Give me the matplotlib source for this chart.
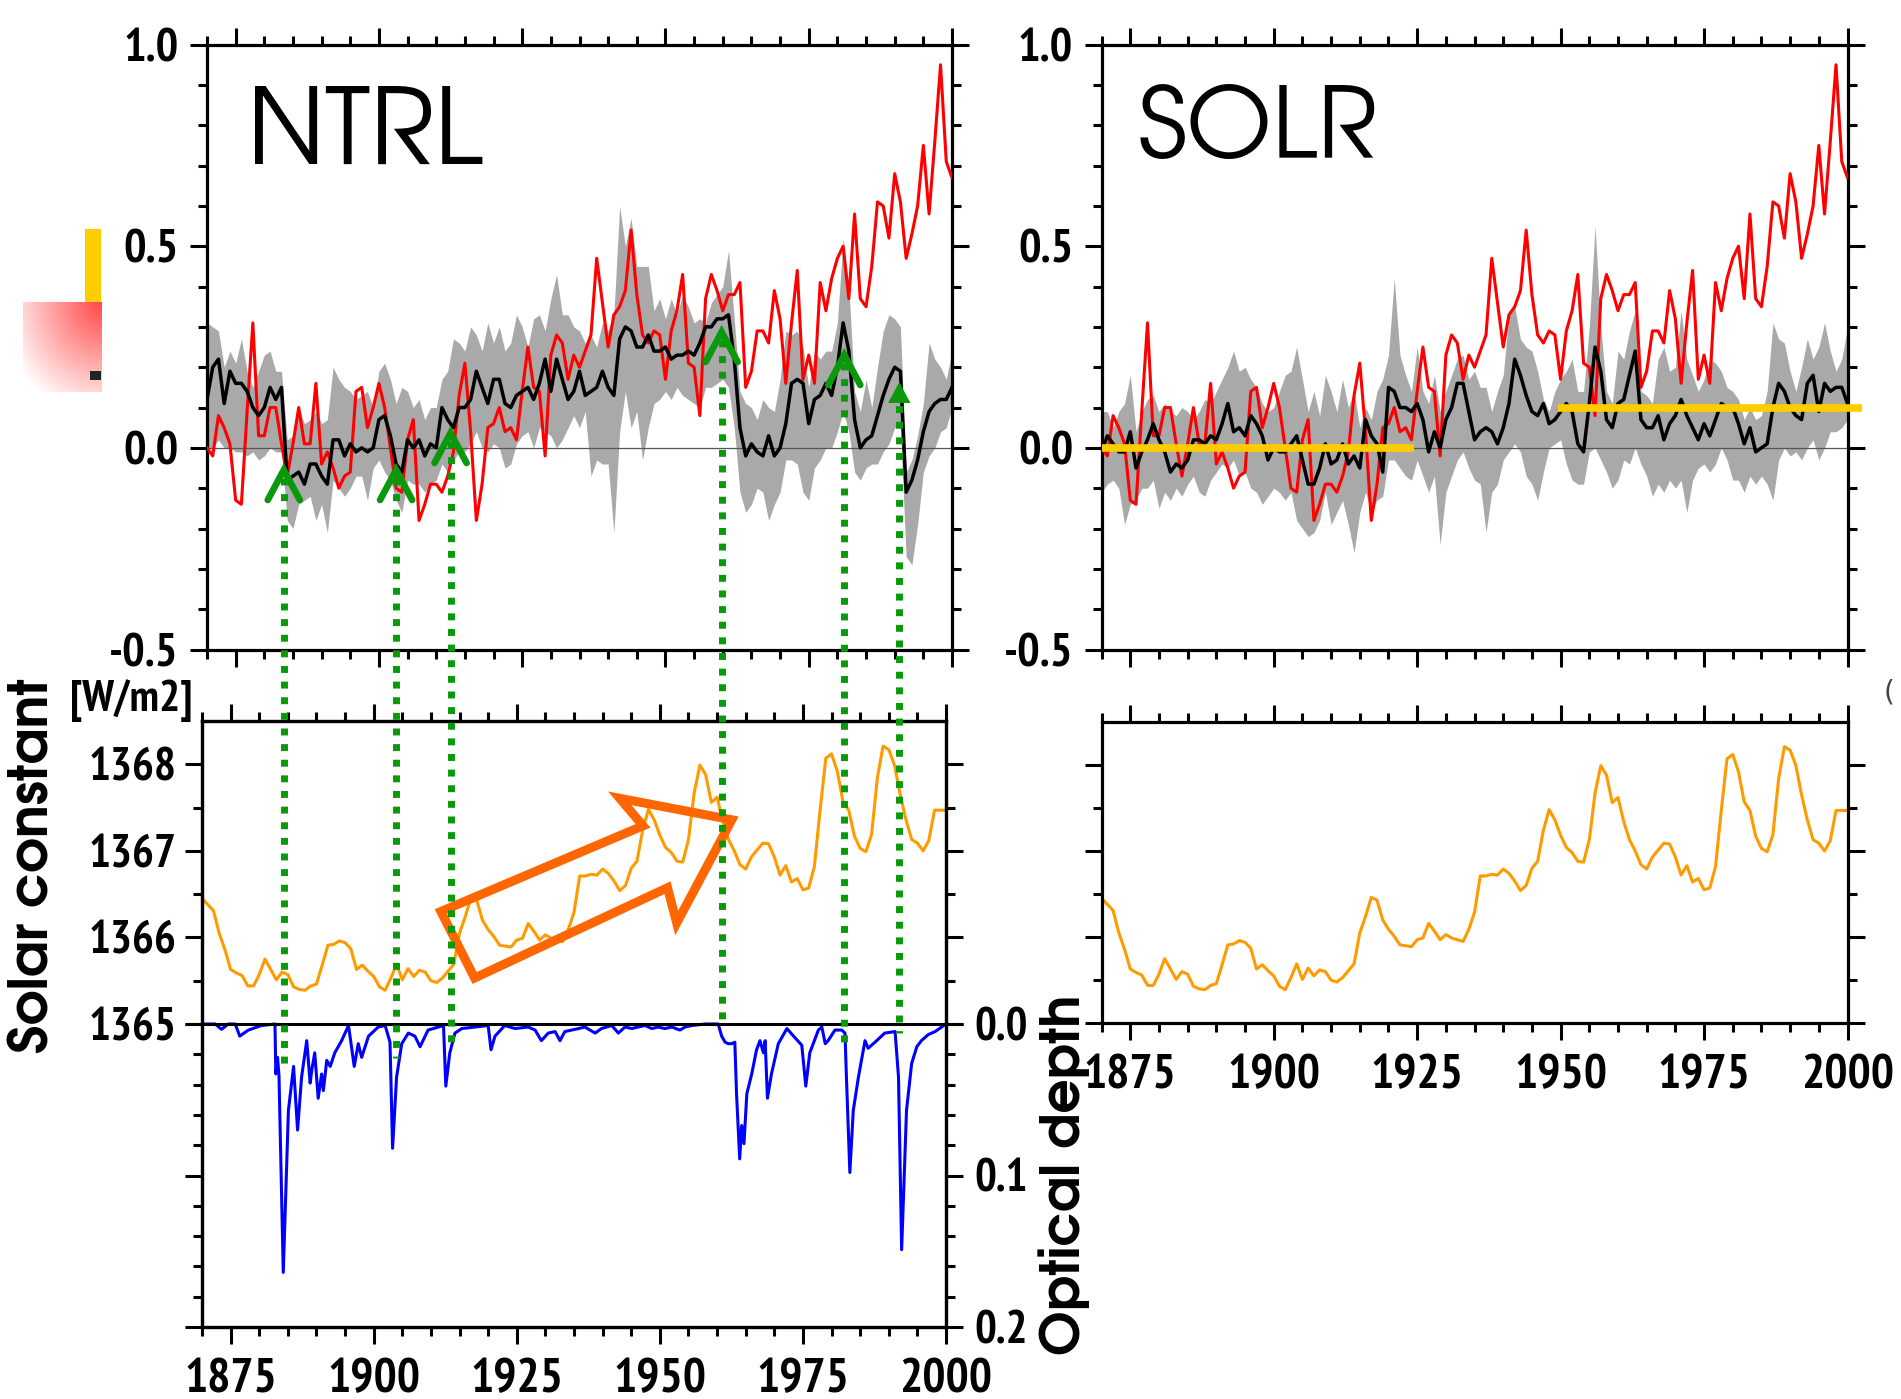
import numpy as np
import matplotlib
matplotlib.use("Agg")
import matplotlib.pyplot as plt
import matplotlib.transforms as mtransforms
from matplotlib import font_manager as fm
from matplotlib.ticker import MultipleLocator, FixedLocator, FormatStrFormatter
from matplotlib.patches import Polygon, Rectangle
from matplotlib.lines import Line2D

available = {f.name for f in fm.fontManager.ttflist}


def pick(*names):
    for n in names:
        if n in available:
            return n
    return "DejaVu Sans"


NARROW = pick("PT Sans Narrow", "Open Sans Condensed", "IBM Plex Sans Condensed",
              "Liberation Sans Narrow")
GOTHIC = pick("TeX Gyre Adventor", "URW Gothic", "Questrial", "Didact Gothic",
              "Poppins")
GOTHIC_BOLD = pick("TeX Gyre Adventor", "URW Gothic", "Poppins")

plt.rcParams["font.family"] = [NARROW, "DejaVu Sans"]
plt.rcParams["font.weight"] = "bold"

# ---------------- data ----------------
years = list(range(1870, 2001))

obs_red = [
    0.00, -0.02, 0.08, 0.05, 0.01, -0.13, -0.14, 0.09, 0.31, 0.03,
    0.03, 0.10, 0.10, 0.01, -0.07, 0.01, 0.10, 0.01, 0.01, 0.16,
    -0.04, -0.01, -0.05, -0.10, -0.07, -0.06, 0.14, 0.15, 0.05, 0.10,
    0.16, 0.10, 0.00, -0.10, -0.11, 0.02, 0.07, -0.18, -0.14, -0.09,
    -0.09, -0.11, -0.07, -0.01, 0.13, 0.21, 0.04, -0.18, -0.09, 0.05,
    0.06, 0.10, 0.04, 0.05, 0.02, 0.14, 0.25, 0.15, 0.14, -0.02,
    0.23, 0.28, 0.26, 0.17, 0.23, 0.20, 0.24, 0.28, 0.47, 0.36,
    0.25, 0.33, 0.35, 0.39, 0.54, 0.38, 0.28, 0.26, 0.29, 0.28,
    0.17, 0.29, 0.34, 0.43, 0.21, 0.20, 0.08, 0.37, 0.43, 0.39,
    0.34, 0.38, 0.38, 0.41, 0.15, 0.19, 0.29, 0.29, 0.26, 0.39,
    0.32, 0.16, 0.31, 0.44, 0.17, 0.23, 0.16, 0.41, 0.34, 0.42,
    0.47, 0.50, 0.37, 0.58, 0.37, 0.35, 0.45, 0.61, 0.60, 0.52,
    0.68, 0.61, 0.47, 0.53, 0.60, 0.75, 0.58, 0.76, 0.95, 0.71,
    0.67]

ntrl_mean = [
    0.12, 0.20, 0.22, 0.11, 0.19, 0.16, 0.16, 0.14, 0.10, 0.08,
    0.10, 0.15, 0.12, 0.15, -0.08, -0.07, -0.06, -0.09, -0.04, -0.04,
    -0.07, -0.09, 0.02, 0.02, -0.02, 0.01, -0.01, 0.00, -0.01, 0.00,
    0.07, 0.08, 0.03, -0.04, -0.06, 0.02, 0.00, 0.02, -0.02, 0.01,
    0.00, 0.10, 0.07, 0.05, 0.10, 0.10, 0.12, 0.19, 0.15, 0.11,
    0.17, 0.17, 0.11, 0.10, 0.13, 0.14, 0.15, 0.12, 0.16, 0.22,
    0.14, 0.22, 0.17, 0.12, 0.14, 0.19, 0.13, 0.14, 0.15, 0.19,
    0.15, 0.13, 0.27, 0.30, 0.29, 0.25, 0.25, 0.28, 0.24, 0.24,
    0.25, 0.22, 0.23, 0.23, 0.24, 0.23, 0.26, 0.30, 0.30, 0.32,
    0.32, 0.33, 0.22, 0.05, -0.02, 0.01, -0.01, -0.02, 0.03, -0.02,
    0.00, 0.06, 0.16, 0.17, 0.16, 0.06, 0.12, 0.13, 0.16, 0.13,
    0.20, 0.31, 0.24, 0.07, 0.00, 0.02, 0.03, 0.08, 0.13, 0.17,
    0.20, 0.19, -0.11, -0.08, -0.03, 0.04, 0.09, 0.11, 0.12, 0.12,
    0.15]

ntrl_hi = [
    0.31, 0.30, 0.29, 0.20, 0.24, 0.21, 0.27, 0.19, 0.15, 0.19,
    0.23, 0.24, 0.19, 0.19, 0.02, 0.03, 0.10, 0.06, 0.07, 0.09,
    0.06, 0.07, 0.20, 0.17, 0.15, 0.14, 0.12, 0.13, 0.14, 0.10,
    0.19, 0.21, 0.17, 0.11, 0.15, 0.14, 0.10, 0.12, 0.07, 0.10,
    0.10, 0.17, 0.19, 0.27, 0.26, 0.24, 0.30, 0.28, 0.24, 0.31,
    0.26, 0.30, 0.24, 0.26, 0.33, 0.30, 0.25, 0.32, 0.33, 0.29,
    0.37, 0.43, 0.33, 0.33, 0.30, 0.29, 0.26, 0.28, 0.25, 0.31,
    0.29, 0.33, 0.60, 0.50, 0.57, 0.45, 0.45, 0.45, 0.34, 0.37,
    0.32, 0.37, 0.33, 0.38, 0.35, 0.31, 0.32, 0.31, 0.36, 0.38,
    0.40, 0.49, 0.32, 0.14, 0.11, 0.10, 0.07, 0.12, 0.10, 0.09,
    0.17, 0.29, 0.28, 0.29, 0.25, 0.15, 0.24, 0.22, 0.24, 0.24,
    0.31, 0.52, 0.40, 0.14, 0.09, 0.17, 0.10, 0.20, 0.29, 0.33,
    0.32, 0.30, -0.06, -0.03, 0.03, 0.11, 0.26, 0.22, 0.20, 0.17,
    0.24]

ntrl_lo = [
    0.00, 0.00, 0.02, 0.00, 0.00, -0.01, -0.01, -0.02, -0.01, -0.03,
    -0.02, 0.00, -0.01, -0.01, -0.18, -0.20, -0.14, -0.13, -0.12, -0.18,
    -0.14, -0.21, -0.08, -0.10, -0.12, -0.10, -0.07, -0.07, -0.13, -0.05,
    -0.03, -0.06, -0.08, -0.13, -0.16, -0.08, -0.09, -0.09, -0.11, -0.09,
    -0.08, -0.04, -0.06, -0.03, -0.01, -0.01, 0.01, 0.04, 0.00, -0.01,
    0.01, 0.00, -0.05, -0.04, 0.01, 0.03, 0.04, 0.00, 0.05, 0.04,
    0.03, 0.00, 0.02, 0.05, 0.08, 0.05, 0.09, -0.07, -0.03, -0.04,
    -0.04, -0.21, 0.04, 0.14, 0.05, 0.09, -0.03, 0.05, 0.11, 0.12,
    0.14, 0.12, 0.15, 0.13, 0.12, 0.11, 0.10, 0.15, 0.15, 0.16,
    0.17, 0.15, 0.05, -0.11, -0.16, -0.14, -0.10, -0.11, -0.18, -0.14,
    -0.11, -0.03, -0.03, -0.04, -0.11, -0.13, -0.05, -0.03, 0.00, 0.00,
    0.04, 0.09, 0.04, -0.06, -0.08, -0.05, -0.04, -0.04, -0.01, 0.01,
    0.05, 0.05, -0.27, -0.29, -0.19, -0.06, -0.02, 0.00, 0.04, 0.05,
    0.10]

solr_mean = [
    -0.01, 0.03, 0.01, -0.01, -0.01, 0.04, -0.05, -0.01, 0.02, 0.06,
    0.02, -0.01, -0.06, -0.04, -0.05, -0.03, 0.02, 0.02, 0.01, 0.03,
    0.02, 0.06, 0.11, 0.04, 0.05, 0.03, 0.08, 0.06, 0.03, -0.03,
    0.00, -0.01, -0.01, 0.01, 0.03, -0.03, -0.09, -0.09, -0.05, 0.01,
    -0.04, -0.03, 0.01, -0.04, -0.02, -0.05, 0.07, 0.03, 0.01, -0.06,
    0.15, 0.14, 0.10, 0.10, 0.09, 0.11, 0.07, -0.01, 0.04, 0.00,
    0.07, 0.10, 0.16, 0.16, 0.09, 0.02, 0.04, 0.05, 0.04, 0.01,
    0.05, 0.11, 0.22, 0.18, 0.13, 0.09, 0.08, 0.11, 0.06, 0.07,
    0.09, 0.11, 0.09, 0.01, -0.01, 0.11, 0.25, 0.19, 0.07, 0.05,
    0.11, 0.12, 0.18, 0.24, 0.07, 0.05, 0.05, 0.08, 0.02, 0.06,
    0.08, 0.12, 0.08, 0.05, 0.02, 0.06, 0.03, 0.07, 0.11, 0.10,
    0.10, 0.06, 0.01, 0.05, -0.01, 0.00, 0.01, 0.10, 0.16, 0.14,
    0.10, 0.08, 0.07, 0.16, 0.18, 0.09, 0.16, 0.14, 0.15, 0.15,
    0.11]

solr_hi = [
    0.09, 0.09, 0.05, 0.09, 0.11, 0.18, 0.04, 0.09, 0.12, 0.13,
    0.09, 0.11, 0.09, 0.08, 0.10, 0.09, 0.07, 0.09, 0.12, 0.11,
    0.14, 0.17, 0.20, 0.24, 0.19, 0.20, 0.17, 0.15, 0.11, 0.09,
    0.10, 0.14, 0.18, 0.19, 0.25, 0.17, 0.09, 0.14, 0.08, 0.18,
    0.14, 0.09, 0.17, 0.10, 0.14, 0.05, 0.10, 0.07, 0.14, 0.17,
    0.23, 0.42, 0.23, 0.18, 0.14, 0.25, 0.14, 0.11, 0.18, 0.09,
    0.14, 0.18, 0.22, 0.23, 0.17, 0.19, 0.15, 0.15, 0.09, 0.14,
    0.18, 0.33, 0.35, 0.27, 0.25, 0.24, 0.19, 0.12, 0.09, 0.14,
    0.17, 0.19, 0.22, 0.14, 0.14, 0.30, 0.55, 0.30, 0.14, 0.11,
    0.24, 0.22, 0.29, 0.34, 0.14, 0.13, 0.11, 0.22, 0.25, 0.19,
    0.20, 0.34, 0.22, 0.18, 0.14, 0.17, 0.22, 0.21, 0.19, 0.15,
    0.14, 0.12, 0.07, 0.10, 0.07, 0.08, 0.14, 0.31, 0.27, 0.26,
    0.19, 0.14, 0.20, 0.27, 0.22, 0.25, 0.31, 0.24, 0.19, 0.22,
    0.30]

solr_lo = [
    -0.11, -0.09, -0.08, -0.10, -0.19, -0.14, -0.13, -0.10, -0.10, -0.08,
    -0.15, -0.11, -0.13, -0.10, -0.12, -0.09, -0.07, -0.11, -0.12, -0.08,
    -0.06, -0.04, -0.05, -0.03, -0.07, -0.06, -0.10, -0.11, -0.14, -0.12,
    -0.10, -0.11, -0.13, -0.11, -0.18, -0.20, -0.22, -0.21, -0.18, -0.11,
    -0.19, -0.16, -0.13, -0.19, -0.26, -0.16, -0.11, -0.16, -0.13, -0.12,
    -0.03, -0.03, -0.05, -0.07, -0.08, -0.03, -0.07, -0.11, -0.07, -0.24,
    -0.11, -0.07, -0.03, -0.01, -0.05, -0.08, -0.09, -0.21, -0.11, -0.09,
    -0.03, -0.01, 0.01, -0.01, -0.07, -0.09, -0.13, -0.06, 0.00, 0.01,
    0.02, -0.04, -0.08, -0.09, -0.09, -0.01, 0.00, -0.03, -0.06, -0.10,
    -0.08, -0.03, -0.04, 0.00, -0.04, -0.07, -0.12, -0.09, -0.11, -0.08,
    -0.10, -0.08, -0.16, -0.08, -0.05, -0.04, -0.06, -0.04, 0.00, -0.03,
    -0.08, -0.08, -0.11, -0.07, -0.09, -0.07, -0.09, -0.13, -0.03, 0.00,
    -0.02, -0.01, -0.03, 0.00, 0.02, -0.03, 0.00, 0.04, 0.04, 0.05,
    0.07]

solar_const = [
    1366.45, 1366.38, 1366.31, 1366.05, 1365.86, 1365.63, 1365.59, 1365.56, 1365.44, 1365.44,
    1365.57, 1365.75, 1365.63, 1365.51, 1365.60, 1365.57, 1365.43, 1365.40, 1365.39, 1365.44,
    1365.46, 1365.68, 1365.91, 1365.92, 1365.96, 1365.94, 1365.87, 1365.63, 1365.68, 1365.61,
    1365.55, 1365.43, 1365.39, 1365.53, 1365.69, 1365.51, 1365.64, 1365.55, 1365.62, 1365.60,
    1365.50, 1365.48, 1365.53, 1365.61, 1365.69, 1366.05, 1366.24, 1366.46, 1366.43, 1366.20,
    1366.09, 1366.01, 1365.91, 1365.90, 1365.89, 1365.97, 1365.99, 1366.16, 1366.07, 1365.97,
    1366.03, 1365.99, 1365.97, 1365.95, 1366.09, 1366.29, 1366.71, 1366.71, 1366.73, 1366.72,
    1366.79, 1366.74, 1366.65, 1366.54, 1366.60, 1366.80, 1366.88, 1367.24, 1367.48, 1367.36,
    1367.18, 1367.04, 1366.98, 1366.88, 1366.87, 1367.13, 1367.67, 1367.99, 1367.88, 1367.56,
    1367.62, 1367.34, 1367.13, 1367.00, 1366.84, 1366.79, 1366.93, 1367.01, 1367.09, 1367.08,
    1366.93, 1366.72, 1366.83, 1366.64, 1366.68, 1366.55, 1366.57, 1366.82, 1367.47, 1368.07,
    1368.12, 1367.92, 1367.57, 1367.47, 1367.17, 1367.03, 1366.99, 1367.19, 1367.84, 1368.21,
    1368.17, 1367.99, 1367.65, 1367.36, 1367.13, 1367.09, 1367.00, 1367.12, 1367.47, 1367.47,
    1367.47]

aod_year = [
    1870.0, 1872.3, 1873.4, 1874.6, 1875.8, 1876.6, 1878.1, 1880.4, 1882.75, 1882.9,
    1883.2, 1883.45, 1884.2, 1885.1, 1886.0, 1886.7, 1887.4, 1888.3, 1888.9, 1889.2,
    1889.7, 1890.3, 1890.9, 1891.2, 1891.8, 1892.4, 1893.2, 1894.4, 1895.6, 1896.6,
    1897.3, 1897.9, 1899.1, 1900.8, 1902.0, 1902.85, 1903.3, 1904.0, 1904.9, 1906.05,
    1907.2, 1908.1, 1909.5, 1912.2, 1912.6, 1913.3, 1914.2, 1915.4, 1920.0, 1920.5,
    1921.2, 1922.9, 1924.7, 1927.0, 1928.2, 1929.3, 1930.5, 1931.7, 1932.55, 1933.4,
    1934.6, 1935.8, 1936.9, 1938.7, 1939.8, 1941.6, 1942.75, 1943.9, 1945.1, 1946.2,
    1947.4, 1948.6, 1949.7, 1950.9, 1952.1, 1953.5, 1954.4, 1955.6, 1957.9, 1960.2,
    1960.8, 1961.4, 1961.97, 1962.55, 1963.1, 1963.4, 1963.95, 1964.3, 1964.7, 1965.2,
    1966.05, 1966.9, 1967.5, 1968.1, 1968.4, 1968.8, 1969.5, 1970.7, 1972.2, 1973.6,
    1974.8, 1975.5, 1976.2, 1977.7, 1978.3, 1978.9, 1979.4, 1980.6, 1981.8, 1982.35,
    1982.6, 1983.2, 1983.8, 1984.7, 1985.85, 1986.4, 1987.6, 1989.3, 1991.1, 1991.7,
    1992.25, 1993.1, 1994.0, 1994.9, 1995.7, 1996.9, 1998.1, 2000.0]
aod_val = [
    0.000, 0.000, 0.0035, 0.000, 0.000, 0.008, 0.004, 0.001, 0.000, 0.033,
    0.022, 0.034, 0.164, 0.057, 0.028, 0.070, 0.035, 0.011, 0.039, 0.030,
    0.019, 0.049, 0.033, 0.044, 0.024, 0.028, 0.019, 0.011, 0.001, 0.028,
    0.013, 0.022, 0.008, 0.002, 0.001, 0.012, 0.082, 0.035, 0.013, 0.006,
    0.008, 0.015, 0.004, 0.001, 0.041, 0.019, 0.006, 0.003, 0.001, 0.017,
    0.008, 0.001, 0.003, 0.002, 0.004, 0.011, 0.006, 0.005, 0.011, 0.005,
    0.004, 0.003, 0.002, 0.006, 0.003, 0.001, 0.006, 0.002, 0.003, 0.002,
    0.001, 0.003, 0.002, 0.003, 0.002, 0.004, 0.002, 0.001, 0.000, 0.000,
    0.008, 0.012, 0.013, 0.013, 0.012, 0.046, 0.089, 0.067, 0.079, 0.046,
    0.033, 0.017, 0.011, 0.019, 0.011, 0.049, 0.033, 0.013, 0.003, 0.009,
    0.014, 0.041, 0.019, 0.004, 0.002, 0.013, 0.011, 0.004, 0.004, 0.006,
    0.035, 0.098, 0.057, 0.035, 0.011, 0.016, 0.012, 0.006, 0.005, 0.035,
    0.149, 0.057, 0.026, 0.015, 0.011, 0.007, 0.005, 0.000]

volcano_years = [1883.4, 1903.0, 1912.5, 1959.8, 1981.2, 1990.8]
solr_levels = [(1870, 1924.4, 0.0), (1949.5, 2002.6, 0.10)]

# ---------------- layout ----------------
W, H = 1901, 1399
RED, GRAY, ORANGE, BLUE = "#ff0000", "#a9a9a9", "#ff9a00", "#0000ff"
GREEN, YELLOW, ARROW = "#0a990a", "#ffcc00", "#ff6600"

fig = plt.figure(figsize=(W / 100, H / 100), dpi=100)


def rect(x0, y0, x1, y1):
    return [x0 / W, 1 - y1 / H, (x1 - x0) / W, (y1 - y0) / H]


def fy(py):
    return 1 - py / H


def frame(ax):
    for s in ax.spines.values():
        s.set_linewidth(2.3)
    ax.set_xlim(1870, 2000)
    ax.xaxis.set_major_locator(MultipleLocator(25))
    ax.xaxis.set_minor_locator(MultipleLocator(5))
    ax.tick_params(which="both", direction="out", top=True, right=True,
                   left=True, bottom=True, width=2.2)
    ax.tick_params(which="major", length=12.5)
    ax.tick_params(which="minor", length=6.5)


ax_ntrl = fig.add_axes(rect(207, 44.6, 952, 649.5))
ax_solr = fig.add_axes(rect(1101.6, 44.6, 1847.5, 649.5))
ax_sc = fig.add_axes(rect(202, 721, 946, 1327))
ax_sc2 = fig.add_axes(rect(1101.6, 721.7, 1847.5, 1023.3))

# top panels
titles = []
for ax, mean, hi, lo, name, tx, ty in [
        (ax_ntrl, ntrl_mean, ntrl_hi, ntrl_lo, "NTRL", 0.054, 0.803),
        (ax_solr, solr_mean, solr_hi, solr_lo, "SOLR", 0.048, 0.813)]:
    frame(ax)
    ax.fill_between(years, lo, hi, color=GRAY, lw=0, zorder=1)
    ax.axhline(0, color="#555555", lw=0.9, zorder=2)
    ax.plot(years, obs_red, color=RED, lw=2.2, zorder=3)
    ax.plot(years, mean, color="black", lw=2.5, zorder=4)
    ax.set_ylim(-0.5, 1.0)
    ax.yaxis.set_major_locator(MultipleLocator(0.5))
    ax.yaxis.set_minor_locator(MultipleLocator(0.1))
    ax.yaxis.set_major_formatter(FormatStrFormatter("%.1f"))
    ax.tick_params(labelbottom=False, labelsize=34)
    ax.tick_params(axis="y", pad=8)
    titles.append(ax.text(tx, ty, name, transform=ax.transAxes, fontsize=63,
                          family=GOTHIC, fontweight="normal", va="baseline"))

for x0, x1, lev in solr_levels:
    ax_solr.plot([x0, x1], [lev, lev], color=YELLOW, lw=5.5,
                 solid_capstyle="butt", clip_on=False, zorder=6)

# bottom-left: solar constant + optical depth
frame(ax_sc)
ax_sc.plot(years, solar_const, color=ORANGE, lw=2.2)
ax_sc.set_ylim(1361.5, 1368.5)
ax_od = ax_sc.twinx()
ax_od.plot(aod_year, aod_val, color=BLUE, lw=2.2, zorder=2)
ax_od.axhline(0, color="black", lw=2.2, zorder=3)
ax_od.set_ylim(0.2, -0.2)
for s in ax_od.spines.values():
    s.set_linewidth(2.3)
ax_sc.yaxis.set_major_locator(FixedLocator([1365, 1366, 1367, 1368]))
ax_sc.yaxis.set_minor_locator(FixedLocator([1365.5, 1366.5, 1367.5]))
ax_sc.tick_params(which="both", left=True, right=True, labelleft=True,
                  labelright=False)
ax_sc.tick_params(axis="y", labelsize=33, pad=6)
ax_sc.tick_params(axis="x", labelsize=35, pad=10)
ax_od.yaxis.set_major_locator(FixedLocator([0.0, 0.1, 0.2]))
ax_od.yaxis.set_minor_locator(FixedLocator(
    [0.02, 0.04, 0.06, 0.08, 0.12, 0.14, 0.16, 0.18]))
ax_od.yaxis.set_major_formatter(FormatStrFormatter("%.1f"))
ax_od.tick_params(which="both", direction="out", left=True, right=True,
                  labelleft=False, labelright=True, width=2.2)
ax_od.tick_params(which="major", length=12.5, labelsize=33, pad=8)
ax_od.tick_params(which="minor", length=6.5)

# bottom-right: solar constant only
frame(ax_sc2)
ax_sc2.plot(years, solar_const, color=ORANGE, lw=2.2)
ax_sc2.set_ylim(1365, 1368.5)
ax_sc2.yaxis.set_major_locator(FixedLocator([1365, 1366, 1367, 1368]))
ax_sc2.yaxis.set_minor_locator(FixedLocator([1365.5, 1366.5, 1367.5]))
ax_sc2.tick_params(labelleft=False)
ax_sc2.tick_params(axis="x", labelsize=35, pad=10)

# axis titles
t_sc = fig.text(34 / W, fy(866), "Solar constant", rotation=90, ha="center",
                va="center", fontsize=33, family=GOTHIC_BOLD, fontweight="bold")
t_od = fig.text(1064 / W, fy(1175), "Optical depth", rotation=90, ha="center",
                va="center", fontsize=33, family=GOTHIC_BOLD, fontweight="bold")
t_wm = fig.text(131 / W, fy(701), "[W/m2]", ha="center", va="center",
                fontsize=31)

# scale the free texts to the lengths they have in the original
fig.canvas.draw()
renderer = fig.canvas.get_renderer()
for txt, target, along in [(titles[0], 236, "w"), (titles[1], 240, "w"),
                           (t_sc, 375, "h"), (t_od, 361, "h"),
                           (t_wm, 122, "w")]:
    bb = txt.get_window_extent(renderer)
    size = bb.width if along == "w" else bb.height
    txt.set_fontsize(txt.get_fontsize() * target / size)

# volcano markers: dotted green lines with chevrons
blend = mtransforms.blended_transform_factory(ax_ntrl.transData,
                                              fig.transFigure)
marker_tops = [470, 470, 433, 332, 355, 382]
line_bottoms = [1070, 1058, 1042, 1019, 1049, 1033]
for i, (yr, top, bot) in enumerate(zip(volcano_years, marker_tops,
                                       line_bottoms)):
    fig.add_artist(Line2D([yr, yr], [fy(top + 8), fy(bot)], transform=blend,
                          color=GREEN, lw=5.0, linestyle=(0, (1.0, 1.25)),
                          dash_capstyle="butt"))
    if i < len(volcano_years) - 1:
        fig.add_artist(Line2D([yr - 2.8, yr, yr + 2.8],
                              [fy(top + 30), fy(top), fy(top + 30)],
                              transform=blend, color=GREEN, lw=4.8,
                              solid_capstyle="round", solid_joinstyle="miter"))
    else:
        fig.add_artist(Polygon([(yr - 1.95, fy(top + 21)), (yr, fy(top)),
                                (yr + 1.95, fy(top + 21))], closed=True,
                               transform=blend, color=GREEN, lw=0))

# hollow orange arrow
arrow_px = [(440.9, 911.5), (643, 825.8), (619.7, 798.3), (731.8, 819.8),
            (676.7, 923), (667.5, 887.7), (474.6, 978)]
fig.add_artist(Polygon([(x / W, fy(y)) for x, y in arrow_px], closed=True,
                       fill=False, edgecolor=ARROW, lw=6.5,
                       joinstyle="miter", transform=fig.transFigure))

# cropped legend remnants at the left edge
fig.add_artist(Rectangle((84.5 / W, fy(302)), 16.5 / W, 73 / H,
                         color=YELLOW, lw=0, transform=fig.transFigure))
gax = fig.add_axes(rect(23, 302, 101, 392))
u = np.linspace(0, 1, 78)[None, :]
v = np.linspace(0, 1, 90)[:, None]
t = np.clip(1 - np.sqrt((1 - u) ** 2 + v ** 2) / np.sqrt(2) * 1.1, 0, 1)
img = np.dstack([np.ones_like(t), 1 - 0.72 * t, 1 - 0.72 * t])
gax.imshow(img, aspect="auto", interpolation="bilinear")
gax.axis("off")
fig.add_artist(Rectangle((90 / W, fy(380)), 11 / W, 9 / H,
                         color="#222222", lw=0, transform=fig.transFigure))
fig.text(1884 / W, fy(692), "(", fontsize=20, color="#444444",
         family="DejaVu Sans", fontweight="normal", va="center")

fig.savefig("out.png", dpi=100)
